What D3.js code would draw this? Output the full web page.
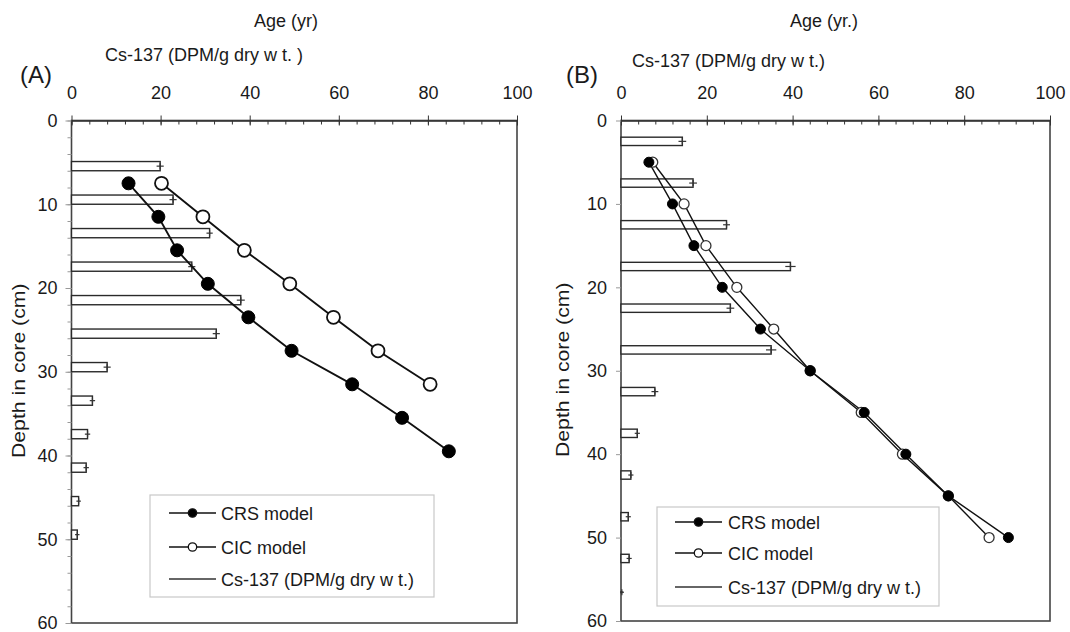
<!DOCTYPE html>
<html><head><meta charset="utf-8">
<script src="https://cdn.jsdelivr.net/npm/d3@7"></script>
<style>body{margin:0;background:#fff}text{font-family:"Liberation Sans",Arial,sans-serif;fill:#1a1a1a}</style>
</head><body><svg id="c" width="1070" height="632"></svg>
<script>
// ---------- Panel A data ----------
const depthA_crs = [7.5, 11.5, 15.5, 19.5, 23.5, 27.5, 31.5, 35.5, 39.5];
const ageA_crs   = [12.8, 19.5, 23.7, 30.6, 39.7, 49.4, 63.0, 74.2, 84.7];
const depthA_cic = [7.5, 11.5, 15.5, 19.5, 23.5, 27.5, 31.5];
const ageA_cic   = [20.2, 29.5, 38.8, 49.0, 58.8, 68.8, 80.5];
const csTopA     = [4.9, 8.9, 12.9, 16.9, 20.9, 24.9, 28.9, 32.9, 36.9, 40.9, 44.9, 48.9];
const csBottomA  = [6.0, 10.0, 14.0, 18.0, 22.0, 26.0, 30.0, 34.0, 38.0, 42.0, 46.0, 50.0];
const csA        = [19.9, 22.8, 31.0, 27.0, 38.0, 32.5, 8.0, 4.7, 3.6, 3.3, 1.6, 1.3];
const csErrA     = [0.8, 0.8, 0.7, 0.8, 0.9, 0.8, 0.8, 0.6, 0.6, 0.6, 0.5, 0.5];

// ---------- Panel B data ----------
const depthB     = [5, 10, 15, 20, 25, 30, 35, 40, 45, 50];
const ageB_crs   = [6.5, 12.0, 17.0, 23.6, 32.5, 44.1, 56.7, 66.4, 76.3, 90.3];
const ageB_cic   = [7.4, 14.7, 19.8, 27.0, 35.6, 44.1, 56.0, 65.6, 76.3, 85.8];
const csTopB     = [2.0, 7.0, 12.0, 17.0, 22.0, 27.0, 32.0, 37.0, 42.0, 47.0, 52.0, 56.5];
const csBottomB  = [3.0, 8.0, 13.0, 18.0, 23.0, 28.0, 33.0, 38.0, 43.0, 48.0, 53.0, 56.6];
const csB        = [14.3, 16.8, 24.6, 39.5, 25.5, 35.0, 7.9, 3.8, 2.3, 1.7, 1.9, 0.2];
const csErrB     = [0.9, 0.9, 0.8, 1.2, 0.9, 1.2, 0.8, 0.6, 0.6, 0.6, 0.6, 0.5];

// ---------- ticks & labels ----------
const xTicks = [0, 20, 40, 60, 80, 100];
const xMinor = d3.range(0, 101, 4);
const yTicks = [0, 10, 20, 30, 40, 50, 60];
const yMinorA = d3.range(0, 61, 2);
const legendLabels = ["CRS model", "CIC model", "Cs-137 (DPM/g dry w t.)"];

const svg = d3.select("#c");

function panel(cfg) {
  const x = d3.scaleLinear().domain([0, 100]).range([cfg.x0, cfg.x1]);
  const y = d3.scaleLinear().domain([0, 60]).range([cfg.y0, cfg.y1]);
  const g = svg.append("g");

  // titles
  g.append("text").attr("x", cfg.ageX).attr("y", 27).attr("text-anchor", "middle")
    .style("font-size", "18px").text(cfg.ageTitle);
  g.append("text").attr("x", cfg.csX).attr("y", cfg.csY)
    .style("font-size", "18px").text(cfg.csTitle);
  g.append("text").attr("x", cfg.panelX).attr("y", 83)
    .style("font-size", "24px").text(cfg.panelLabel);
  g.append("text").attr("transform", `translate(${cfg.yTitleX},${(cfg.y0 + cfg.y1) / 2 - 1}) rotate(-90) scale(1.18,1)`)
    .attr("text-anchor", "middle").style("font-size", "18px").text("Depth in core (cm)");

  // frame
  g.append("rect").attr("x", x(0)).attr("y", y(0)).attr("width", x(100) - x(0)).attr("height", y(60) - y(0))
    .attr("fill", "none").attr("stroke", "#444").attr("stroke-width", 1.6);

  // y minor ticks
  g.append("g").attr("transform", `translate(${x(0)},0)`)
    .call(d3.axisLeft(y).tickValues(cfg.yMinor).tickSize(cfg.yMinorSize).tickFormat(""))
    .call(a => a.select(".domain").remove())
    .call(a => a.selectAll("line").attr("stroke", "#999"));
  // y major
  g.append("g").attr("transform", `translate(${x(0)},0)`)
    .call(d3.axisLeft(y).tickValues(yTicks).tickSizeInner(cfg.yMajorSize).tickSizeOuter(0).tickPadding(14 - cfg.yMajorSize))
    .call(a => a.select(".domain").remove())
    .call(a => a.selectAll("line").attr("stroke", "#999").attr("transform", `translate(${cfg.yMajorShift},0)`))
    .call(a => a.selectAll("text").style("font-size", "18px").attr("fill", "#1a1a1a").style("font-family", null));

  // x minor ticks (inside)
  g.append("g").attr("transform", `translate(0,${y(0)})`)
    .call(d3.axisTop(x).tickValues(xMinor).tickSize(-4).tickFormat(""))
    .call(a => a.select(".domain").remove())
    .call(a => a.selectAll("line").attr("stroke", "#333"));
  // x major ticks (crossing)
  g.append("g").attr("transform", `translate(0,${y(0)})`)
    .call(d3.axisTop(x).tickValues(xTicks).tickSizeInner(5).tickSizeOuter(0).tickPadding(17))
    .call(a => a.select(".domain").attr("stroke", "#333").attr("stroke-width", 1.6))
    .call(a => a.selectAll("line").attr("stroke", "#333").attr("y2", -5).attr("y1", 5))
    .call(a => a.selectAll("text").style("font-size", "18px").attr("fill", "#1a1a1a").style("font-family", null));

  // Cs-137 bars
  const bars = d3.range(cfg.cs.length);
  g.append("g").selectAll("rect").data(bars).join("rect")
    .attr("x", x(0)).attr("y", i => y(cfg.csTop[i]))
    .attr("width", i => x(cfg.cs[i]) - x(0))
    .attr("height", i => y(cfg.csBottom[i]) - y(cfg.csTop[i]))
    .attr("fill", "#fff").attr("stroke", "#2a2a2a").attr("stroke-width", 1.4);
  g.append("g").selectAll("line").data(bars).join("line")
    .attr("x1", i => x(Math.max(0, cfg.cs[i] - cfg.csErr[i]))).attr("x2", i => x(cfg.cs[i] + cfg.csErr[i]))
    .attr("y1", i => y((cfg.csTop[i] + cfg.csBottom[i]) / 2)).attr("y2", i => y((cfg.csTop[i] + cfg.csBottom[i]) / 2))
    .attr("stroke", "#333").attr("stroke-width", 1.2);
  g.append("g").selectAll("line").data(bars).join("line")
    .attr("x1", i => x(cfg.cs[i])).attr("x2", i => x(cfg.cs[i]))
    .attr("y1", i => y((cfg.csTop[i] + cfg.csBottom[i]) / 2) - 3).attr("y2", i => y((cfg.csTop[i] + cfg.csBottom[i]) / 2) + 3)
    .attr("stroke", "#333").attr("stroke-width", 1.2);

  // model lines
  const line = d3.line().x(d => x(d[0])).y(d => y(d[1]));
  const crs = d3.zip(cfg.crsAge, cfg.crsDepth);
  const cic = d3.zip(cfg.cicAge, cfg.cicDepth);
  g.append("path").datum(cic).attr("d", line).attr("fill", "none").attr("stroke", "#111").attr("stroke-width", cfg.lw);
  g.append("path").datum(crs).attr("d", line).attr("fill", "none").attr("stroke", "#111").attr("stroke-width", cfg.lw);
  g.append("g").selectAll("circle").data(cic).join("circle")
    .attr("cx", d => x(d[0])).attr("cy", d => y(d[1])).attr("r", cfg.r)
    .attr("fill", "#fff").attr("stroke", cfg.cicStroke).attr("stroke-width", cfg.cicSW);
  g.append("g").selectAll("circle").data(crs).join("circle")
    .attr("cx", d => x(d[0])).attr("cy", d => y(d[1])).attr("r", cfg.r)
    .attr("fill", "#000").attr("stroke", "#000").attr("stroke-width", 1);

  // legend
  const L = cfg.legend;
  const lg = g.append("g");
  lg.append("rect").attr("x", L.x).attr("y", L.y).attr("width", L.w).attr("height", L.h)
    .attr("fill", "#fff").attr("stroke", "#c8c8c8").attr("stroke-width", 1.2);
  legendLabels.forEach((lab, i) => {
    const yy = L.rows[i];
    lg.append("line").attr("x1", L.lx1).attr("x2", L.lx2).attr("y1", yy).attr("y2", yy)
      .attr("stroke", i === 2 ? "#333" : "#111").attr("stroke-width", 1.5);
    if (i < 2) lg.append("circle").attr("cx", (L.lx1 + L.lx2) / 2).attr("cy", yy).attr("r", 4.2)
      .attr("fill", i === 0 ? "#000" : "#fff").attr("stroke", "#111").attr("stroke-width", 1.3);
    lg.append("text").attr("x", L.tx).attr("y", yy + 6.5).style("font-size", "18px").text(lab);
  });
}

panel({
  x0: 71.5, x1: 517, y0: 120.5, y1: 623,
  ageTitle: "Age (yr)", ageX: 286, csTitle: "Cs-137 (DPM/g dry w t. )", csX: 105, csY: 61,
  panelLabel: "(A)", panelX: 20, yTitleX: 25,
  yMinor: yMinorA, yMinorSize: 4, yMajorSize: 6, yMajorShift: 0,
  cs: csA, csTop: csTopA, csBottom: csBottomA, csErr: csErrA,
  crsAge: ageA_crs, crsDepth: depthA_crs, cicAge: ageA_cic, cicDepth: depthA_cic,
  lw: 1.9, r: 6.5, cicStroke: "#111", cicSW: 1.8,
  legend: { x: 150, y: 495, w: 284, h: 102, rows: [513, 547, 579], lx1: 169, lx2: 216, tx: 221 }
});

panel({
  x0: 621, x1: 1050, y0: 120.5, y1: 621,
  ageTitle: "Age (yr.)", ageX: 824, csTitle: "Cs-137 (DPM/g dry w t.)", csX: 632, csY: 67,
  panelLabel: "(B)", panelX: 566, yTitleX: 569,
  yMinor: [], yMinorSize: 0, yMajorSize: 5, yMajorShift: 0,
  cs: csB, csTop: csTopB, csBottom: csBottomB, csErr: csErrB,
  crsAge: ageB_crs, crsDepth: depthB, cicAge: ageB_cic, cicDepth: depthB,
  lw: 1.4, r: 5, cicStroke: "#333", cicSW: 1.3,
  legend: { x: 657, y: 507, w: 282, h: 99, rows: [522, 553, 587], lx1: 675, lx2: 722, tx: 728 }
});
</script></body></html>
